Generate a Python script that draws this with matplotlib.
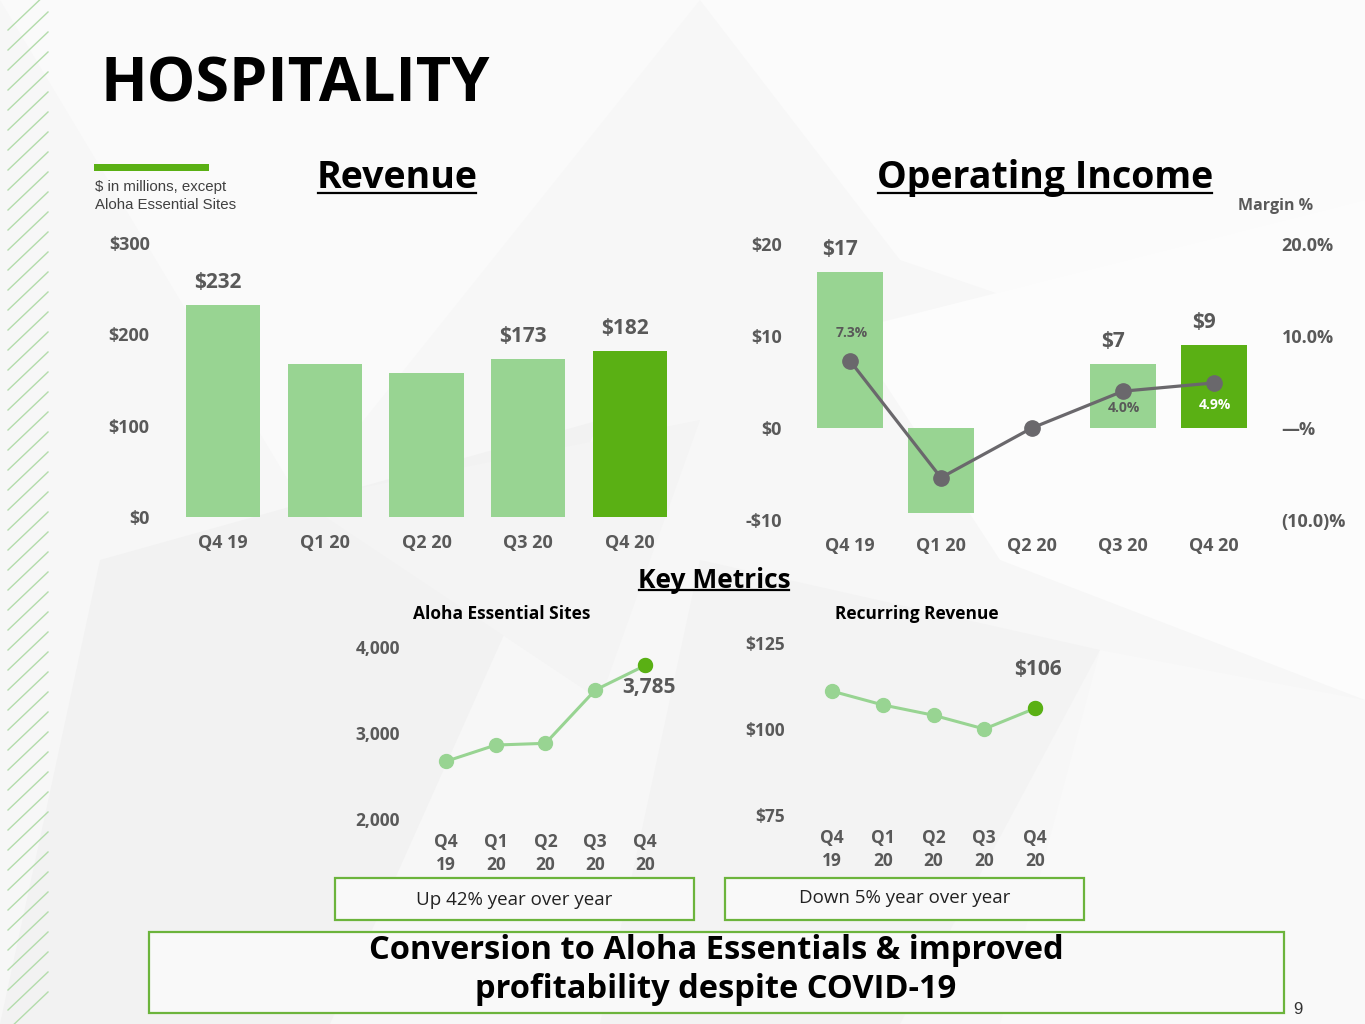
import matplotlib
matplotlib.use("Agg")
import matplotlib.pyplot as plt
from matplotlib.patches import Rectangle, Polygon
from matplotlib.lines import Line2D

plt.rcParams['font.family'] = ['Open Sans', 'DejaVu Sans']

# ---- data ----
quarters = ["Q4 19", "Q1 20", "Q2 20", "Q3 20", "Q4 20"]
quarters_2line = ["Q4\n19", "Q1\n20", "Q2\n20", "Q3\n20", "Q4\n20"]

revenue = [232, 167, 158, 173, 182]
revenue_labels = ["$232", "", "", "$173", "$182"]

op_income = [17, -9.2, 0, 7, 9]
op_income_labels = ["$17", "", "", "$7", "$9"]
op_margin = [7.3, -5.4, 0.0, 4.0, 4.9]
op_margin_labels = ["7.3%", "", "", "4.0%", "4.9%"]

aloha_sites = [2670, 2860, 2880, 3500, 3785]
recurring_rev = [111, 107, 104, 100, 106]

LIGHT = "#98d492"
DARK = "#5ab014"
GREY = "#595959"
LINEGREY = "#6a686c"

W, H = 1365, 1024
fig = plt.figure(figsize=(W / 100, H / 100), dpi=100)
fig.patch.set_facecolor("#f7f7f7")


def box(l, t, r, b):
    return [l / W, 1 - b / H, (r - l) / W, (b - t) / H]


def fx(x):
    return x / W


def fy(y):
    return 1 - y / H


# faint background shapes
bg = fig.add_axes([0, 0, 1, 1], zorder=-5)
bg.set_xlim(0, W)
bg.set_ylim(H, 0)
bg.axis("off")
shapes = [
    ([(0, 0), (700, 0), (300, 500)], "#fafafa"),
    ([(700, 0), (1365, 0), (1365, 420), (900, 260)], "#fbfbfb"),
    ([(100, 560), (600, 420), (330, 1024), (0, 1024)], "#f2f2f2"),
    ([(850, 330), (1365, 200), (1365, 700), (1000, 560)], "#fcfcfc"),
    ([(700, 560), (1100, 650), (900, 1024), (600, 1024)], "#f3f3f3"),
    ([(1100, 650), (1365, 700), (1365, 1024), (1000, 1024)], "#f9f9f9"),
    ([(300, 500), (700, 420), (600, 700)], "#f4f4f4"),
]
for pts, c in shapes:
    bg.add_patch(Polygon(pts, closed=True, color=c, lw=0))

# left hatch stripes
for y0 in range(10, 1030, 20):
    bg.add_line(Line2D([8, 48], [y0 + 20, y0 - 18], color="#b3dcab", lw=1.0))

# header
fig.text(fx(100), fy(86), "HOSPITALITY", fontsize=44, fontweight="bold",
         color="black", va="center", ha="left")
fig.add_artist(Rectangle((fx(94), fy(171)), (209 - 94) / W, 7 / H,
                         transform=fig.transFigure, color=DARK, lw=0))
fig.text(fx(95), fy(196), "$ in millions, except\nAloha Essential Sites",
         fontsize=10.8, family=["Liberation Sans"], color="#404040",
         va="center", ha="left", linespacing=1.3)

underlined = []
underlined.append(fig.text(fx(397), fy(178), "Revenue", fontsize=27,
                           fontweight="bold", ha="center", va="center"))
underlined.append(fig.text(fx(1045), fy(178), "Operating Income", fontsize=27,
                           fontweight="bold", ha="center", va="center"))
underlined.append(fig.text(fx(714), fy(581), "Key Metrics", fontsize=19,
                           fontweight="bold", ha="center", va="center"))


def style_axis(ax):
    for s in ax.spines.values():
        s.set_visible(False)
    ax.set_facecolor("none")
    ax.tick_params(length=0, colors=GREY)
    for lab in ax.get_xticklabels() + ax.get_yticklabels():
        lab.set_fontweight("bold")
        lab.set_color(GREY)


# ---- revenue ----
ax1 = fig.add_axes(box(165, 243, 685, 517))
x = list(range(len(quarters)))
colors = [LIGHT] * (len(quarters) - 1) + [DARK]
ax1.bar(x, revenue, width=0.73, color=colors)
ax1.set_xlim(-0.57, 4.54)
ax1.set_ylim(0, 300)
ax1.set_yticks([0, 100, 200, 300])
ax1.set_yticklabels(["$0", "$100", "$200", "$300"], fontsize=13)
ax1.set_xticks(x)
ax1.set_xticklabels(quarters, fontsize=13)
ax1.tick_params(axis="y", pad=11)
ax1.tick_params(axis="x", pad=12)
style_axis(ax1)
for i, lab in enumerate(revenue_labels):
    if lab:
        ax1.annotate(lab, (i, revenue[i]), xytext=(-4, 16), textcoords="offset points",
                     ha="center", va="center", fontsize=15, fontweight="bold", color=GREY)

# ---- operating income ----
ax2 = fig.add_axes(box(790, 244, 1272, 520))
ax2.bar(x, op_income, width=0.725, color=colors)
ax2.set_xlim(-0.66, 4.64)
ax2.set_ylim(-10, 20)
ax2.set_yticks([-10, 0, 10, 20])
ax2.set_yticklabels(["-$10", "$0", "$10", "$20"], fontsize=13)
ax2.set_xticks(x)
ax2.set_xticklabels(quarters, fontsize=13)
ax2.tick_params(axis="y", pad=6)
ax2.tick_params(axis="x", pad=12)
style_axis(ax2)
for i, lab in enumerate(op_income_labels):
    if lab:
        ax2.annotate(lab, (i, op_income[i]), xytext=(-7, 16), textcoords="offset points",
                     ha="center", va="center", fontsize=15, fontweight="bold", color=GREY)

ax2b = ax2.twinx()
ax2b.set_ylim(-10, 20)
ax2b.plot(x, op_margin, color=LINEGREY, lw=2.3, marker="o", markersize=11,
          markerfacecolor=LINEGREY, markeredgecolor=LINEGREY, clip_on=False)
ax2b.set_yticks([-10, 0, 10, 20])
ax2b.set_yticklabels(["(10.0)%", "\u2014%", "10.0%", "20.0%"], fontsize=13)
ax2b.tick_params(axis="y", pad=7)
style_axis(ax2b)
margin_offsets = [20, 0, 0, -12, -16]
margin_colors = [GREY, GREY, GREY, GREY, "white"]
for i, lab in enumerate(op_margin_labels):
    if lab:
        ax2b.annotate(lab, (i, op_margin[i]), xytext=(1, margin_offsets[i]),
                      textcoords="offset points", ha="center", va="center",
                      fontsize=10, fontweight="bold", color=margin_colors[i])
fig.text(fx(1276), fy(206), "Margin %", fontsize=11.5, fontweight="bold",
         color=GREY, ha="center", va="center")

# ---- aloha essential sites ----
ax3 = fig.add_axes(box(410, 647, 675, 819))
ax3.plot(x, aloha_sites, color=LIGHT, lw=2.2, marker="o", markersize=10,
         markerfacecolor=LIGHT, markeredgecolor=LIGHT, clip_on=False)
ax3.plot(x[-1], aloha_sites[-1], marker="o", markersize=10, color=DARK, clip_on=False)
ax3.set_xlim(-0.72, 4.6)
ax3.set_ylim(2000, 4000)
ax3.set_yticks([2000, 3000, 4000])
ax3.set_yticklabels(["2,000", "3,000", "4,000"], fontsize=12.5)
ax3.set_xticks(x)
ax3.set_xticklabels(quarters_2line, fontsize=12.5, linespacing=1.35)
ax3.tick_params(axis="y", pad=7)
ax3.tick_params(axis="x", pad=10)
style_axis(ax3)
ax3.annotate(f"{aloha_sites[-1]:,}", (x[-1], aloha_sites[-1]), xytext=(3, -16),
             textcoords="offset points", ha="center", va="center",
             fontsize=15, fontweight="bold", color=GREY)
fig.text(fx(502), fy(614), "Aloha Essential Sites", fontsize=12.5,
         fontweight="bold", ha="center", va="center")

# ---- recurring revenue ----
ax4 = fig.add_axes(box(795, 643, 1065, 815))
ax4.plot(x, recurring_rev, color=LIGHT, lw=2.2, marker="o", markersize=10,
         markerfacecolor=LIGHT, markeredgecolor=LIGHT, clip_on=False)
ax4.plot(x[-1], recurring_rev[-1], marker="o", markersize=10, color=DARK, clip_on=False)
ax4.set_xlim(-0.73, 4.59)
ax4.set_ylim(75, 125)
ax4.set_yticks([75, 100, 125])
ax4.set_yticklabels(["$75", "$100", "$125"], fontsize=12.5)
ax4.set_xticks(x)
ax4.set_xticklabels(quarters_2line, fontsize=12.5, linespacing=1.35)
ax4.tick_params(axis="y", pad=7)
ax4.tick_params(axis="x", pad=10)
style_axis(ax4)
ax4.annotate(f"${recurring_rev[-1]}", (x[-1], recurring_rev[-1]), xytext=(2, 28),
             textcoords="offset points", ha="center", va="center",
             fontsize=15, fontweight="bold", color=GREY)
fig.text(fx(917), fy(614), "Recurring Revenue", fontsize=12.5,
         fontweight="bold", ha="center", va="center")

# ---- boxes ----
for (l, t, r, b) in [(335, 878, 694, 920), (725, 878, 1084, 920), (149, 932, 1284, 1013)]:
    fig.add_artist(Rectangle((fx(l), fy(b)), (r - l) / W, (b - t) / H,
                             transform=fig.transFigure, facecolor="#f9f9f9",
                             edgecolor="#6cb43c", lw=1.6))
fig.text(fx(514), fy(900), "Up 42% year over year", fontsize=13.5,
         color="#222222", ha="center", va="center")
fig.text(fx(905), fy(898), "Down 5% year over year", fontsize=13.5,
         color="#222222", ha="center", va="center")
fig.text(fx(716), fy(970), "Conversion to Aloha Essentials & improved\nprofitability despite COVID-19",
         fontsize=23.5, fontweight="bold", color="black", ha="center", va="center",
         linespacing=1.27)
fig.text(fx(1298), fy(1010), "9", fontsize=12, family=["Liberation Sans"],
         color="#333333", ha="center", va="center")

# underline the section titles
fig.canvas.draw()
inv = fig.transFigure.inverted()
for t in underlined:
    bb = t.get_window_extent()
    (x0, y0), (x1, _) = inv.transform([(bb.x0, bb.y0), (bb.x1, bb.y1)])
    fig.add_artist(Line2D([x0 + 0.001, x1 - 0.001], [y0 + 0.004, y0 + 0.004],
                          transform=fig.transFigure, color="black", lw=1.6))

fig.savefig("out.png", dpi=100, facecolor=fig.get_facecolor())
